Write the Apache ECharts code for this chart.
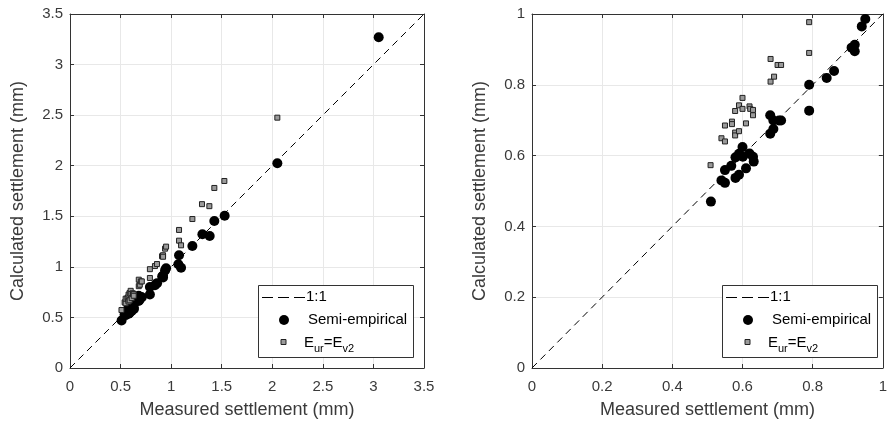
<!DOCTYPE html>
<html>
<head>
<meta charset="utf-8">
<script src="https://cdn.jsdelivr.net/npm/echarts@6/dist/echarts.min.js"></script>
<style>
  html, body { margin: 0; padding: 0; background: #fff; }
  #chart { width: 890px; height: 424px; }
</style>
</head>
<body>
<div id="chart"></div>
<script>
// 量測沉陷 vs 計算沉陷 (mm)
const semiMeasured = [0.51, 0.54, 0.55, 0.55, 0.568, 0.58, 0.59, 0.58, 0.59, 0.60,
    0.601, 0.61, 0.62, 0.63, 0.632, 0.679, 0.688, 0.679, 0.688, 0.704,
    0.71, 0.79, 0.79, 0.84, 0.861, 0.911, 0.92, 0.92, 0.94, 0.95,
    1.071, 1.078, 1.098, 1.21, 1.309, 1.381, 1.427, 1.529, 2.05, 3.052];
const semiCalc = [0.47, 0.53, 0.523, 0.559, 0.571, 0.537, 0.546, 0.595, 0.605, 0.624,
    0.597, 0.564, 0.606, 0.597, 0.583, 0.714, 0.699, 0.662, 0.675, 0.699,
    0.699, 0.80, 0.727, 0.819, 0.839, 0.905, 0.913, 0.895, 0.965, 0.986,
    1.025, 1.114, 0.992, 1.206, 1.322, 1.305, 1.454, 1.506, 2.024, 3.27];

const eurMeasured = [0.509, 0.54, 0.55, 0.55, 0.57, 0.57, 0.579, 0.579, 0.59, 0.579,
    0.59, 0.60, 0.60, 0.61, 0.62, 0.622, 0.63, 0.63, 0.68, 0.68,
    0.69, 0.70, 0.71, 0.79, 0.79, 0.84, 0.86, 0.91, 0.92, 0.92,
    0.94, 0.95, 1.078, 1.078, 1.098, 1.21, 1.305, 1.378, 1.427, 1.526, 2.05];
const eurCalc = [0.573, 0.649, 0.640, 0.685, 0.696, 0.689, 0.665, 0.657, 0.669, 0.726,
    0.742, 0.763, 0.732, 0.691, 0.739, 0.732, 0.729, 0.714, 0.809, 0.873,
    0.823, 0.856, 0.856, 0.977, 0.890, 1.008, 1.028, 1.105, 1.115, 1.10,
    1.18, 1.20, 1.259, 1.365, 1.213, 1.473, 1.62, 1.60, 1.78, 1.849, 2.475];

// 兩個子圖的軸範圍
const axisMax = [3.5, 1];
const axisStep = [0.5, 0.2];

const FONT = '"Liberation Sans", Arial, Helvetica, sans-serif';
const TXT = '#3a3a3a';
const AX = '#333';

const chart = echarts.init(document.getElementById('chart'));

const grids = [
    { left: 70, top: 14, width: 354, height: 354 },
    { left: 532, top: 14, width: 355, height: 354 }
];

function mainAxis(g, isX) {
    return {
        gridIndex: g, type: 'value', min: 0, max: axisMax[g], interval: axisStep[g],
        position: isX ? 'bottom' : 'left',
        name: isX ? 'Measured settlement (mm)' : 'Calculated settlement (mm)',
        nameLocation: 'middle', nameGap: isX ? 33 : 43,
        nameTextStyle: { fontSize: 18, color: TXT, fontFamily: FONT },
        axisLine: { show: true, onZero: false, lineStyle: { color: AX, width: 1 } },
        axisTick: { show: true, inside: true, length: 4, lineStyle: { color: AX } },
        axisLabel: { fontSize: 15, color: TXT, fontFamily: FONT, margin: isX ? 11 : 7 },
        splitLine: { show: true, lineStyle: { color: '#e8e8e8', width: 1 } }
    };
}

function boxAxis(g, isX) {
    return {
        gridIndex: g, type: 'value', min: 0, max: axisMax[g], interval: axisStep[g],
        position: isX ? 'top' : 'right',
        axisLine: { show: true, onZero: false, lineStyle: { color: AX, width: 1 } },
        axisTick: { show: true, inside: true, length: 4, lineStyle: { color: AX } },
        axisLabel: { show: false },
        splitLine: { show: false }
    };
}

const xAxes = [mainAxis(0, true), boxAxis(0, true), mainAxis(1, true), boxAxis(1, true)];
const yAxes = [mainAxis(0, false), boxAxis(0, false), mainAxis(1, false), boxAxis(1, false)];

const semiPts = semiMeasured.map((x, i) => [x, semiCalc[i]]);
const eurPts = eurMeasured.map((x, i) => [x, eurCalc[i]]);

const series = [];
[0, 1].forEach(g => {
    const ax = g * 2;
    series.push({
        type: 'line', xAxisIndex: ax, yAxisIndex: ax,
        data: [[0, 0], [axisMax[g], axisMax[g]]],
        symbol: 'none', silent: true,
        lineStyle: { color: '#000', width: 1, type: [7, 5] }
    });
    series.push({
        type: 'scatter', xAxisIndex: ax, yAxisIndex: ax, data: semiPts,
        symbol: 'circle', symbolSize: 10, itemStyle: { color: '#000', opacity: 1 }
    });
    series.push({
        type: 'scatter', xAxisIndex: ax, yAxisIndex: ax, data: eurPts,
        symbol: 'rect', symbolSize: 5,
        itemStyle: { color: '#9a9a9a', borderColor: '#222', borderWidth: 1, opacity: 1 }
    });
});

// 圖例 (MATLAB 風格方框)
function legendBox(x0) {
    return [
        { type: 'rect', shape: { x: x0 + 0.5, y: 285.5, width: 155, height: 72 },
          style: { fill: '#fff', stroke: AX, lineWidth: 1 }, z: 100 },
        { type: 'line', shape: { x1: x0 + 4, y1: 297.5, x2: x0 + 47, y2: 297.5 },
          style: { stroke: '#000', lineWidth: 1, lineDash: [11, 5] }, z: 101 },
        { type: 'text', x: x0 + 48, y: 297, z: 101,
          style: { text: '1:1', fontSize: 15, fontFamily: FONT, fill: '#000', align: 'left', verticalAlign: 'middle' } },
        { type: 'circle', shape: { cx: x0 + 26, cy: 320, r: 5 }, style: { fill: '#000' }, z: 101 },
        { type: 'text', x: x0 + 50, y: 320, z: 101,
          style: { text: 'Semi-empirical', fontSize: 15, fontFamily: FONT, fill: '#000', align: 'left', verticalAlign: 'middle' } },
        { type: 'rect', shape: { x: x0 + 23, y: 339.5, width: 5, height: 5 },
          style: { fill: '#9a9a9a', stroke: '#222', lineWidth: 1 }, z: 101 },
        { type: 'text', x: x0 + 46, y: 335, z: 101,
          style: {
              text: '{m|E}{s|ur}{m|=E}{s|v2}', align: 'left', verticalAlign: 'top',
              rich: {
                  m: { fontSize: 15, fontFamily: FONT, fill: '#000', lineHeight: 18, verticalAlign: 'top' },
                  s: { fontSize: 11, fontFamily: FONT, fill: '#000', lineHeight: 12, padding: [8, 0, 0, 0], verticalAlign: 'top' }
              }
          } }
    ];
}

chart.setOption({
    animation: false,
    grid: grids,
    xAxis: xAxes,
    yAxis: yAxes,
    series: series,
    graphic: legendBox(258).concat(legendBox(722))
});
</script>
</body>
</html>
